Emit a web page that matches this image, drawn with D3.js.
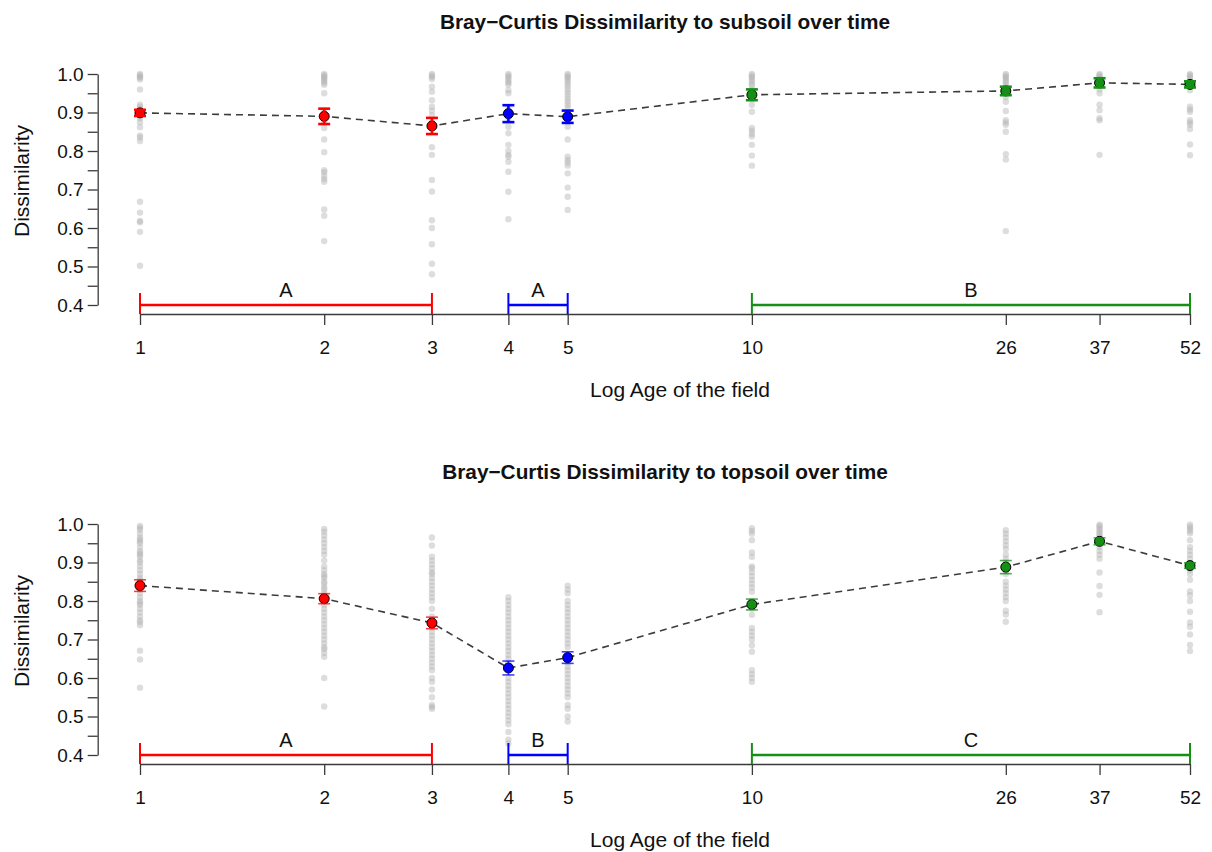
<!DOCTYPE html>
<html>
<head>
<meta charset="utf-8">
<script src="https://cdn.jsdelivr.net/npm/d3@7"></script>
<style>
  body { margin: 0; background: #fff; }
  svg { display: block; }
  text { font-family: "Liberation Sans", Arial, Helvetica, sans-serif; }
</style>
</head>
<body>
<svg id="chart" width="1212" height="852"></svg>
<script>
// Field age (years) of each sampled site
const ages = [1, 2, 3, 4, 5, 10, 26, 37, 52];
const ageTickLabels = ["1", "2", "3", "4", "5", "10", "26", "37", "52"];
const yTickLabels = ["0.4", "0.5", "0.6", "0.7", "0.8", "0.9", "1.0"];

// Age classes used in the post-hoc comparison
const ageGroup = ["young", "young", "young", "mid", "mid", "old", "old", "old", "old"];
const groupSpans = [[1, 3], [4, 5], [10, 52]];
const groupNames = ["young", "mid", "old"];

// Dissimilarity to subsoil
const subsoilMean = [0.899, 0.890, 0.865, 0.897, 0.889, 0.946, 0.956, 0.977, 0.973];
const subsoilSE   = [0.008, 0.020, 0.021, 0.022, 0.016, 0.014, 0.011, 0.012, 0.008];
const subsoilLetters = ["A", "A", "B"];
const subsoilPoints = [
  [1.0, 0.997, 0.993, 0.99, 0.986, 0.96, 0.92, 0.915, 0.91, 0.905, 0.9, 0.895, 0.885, 0.875, 0.862, 0.84, 0.835, 0.826, 0.668, 0.64, 0.618, 0.615, 0.59, 0.502],
  [1.0, 0.997, 0.993, 0.99, 0.986, 0.982, 0.977, 0.972, 0.95, 0.905, 0.89, 0.875, 0.86, 0.83, 0.797, 0.75, 0.745, 0.735, 0.727, 0.72, 0.648, 0.632, 0.566],
  [1.0, 0.996, 0.992, 0.987, 0.967, 0.954, 0.932, 0.915, 0.905, 0.893, 0.875, 0.86, 0.81, 0.79, 0.725, 0.695, 0.62, 0.6, 0.558, 0.507, 0.48],
  [1.0, 0.996, 0.992, 0.987, 0.982, 0.977, 0.972, 0.958, 0.95, 0.91, 0.9, 0.885, 0.863, 0.846, 0.816, 0.8, 0.79, 0.785, 0.772, 0.746, 0.694, 0.623],
  [1.0, 0.996, 0.992, 0.987, 0.982, 0.975, 0.968, 0.96, 0.952, 0.944, 0.936, 0.928, 0.92, 0.912, 0.895, 0.875, 0.863, 0.83, 0.785, 0.777, 0.77, 0.762, 0.742, 0.705, 0.681, 0.647],
  [1.0, 0.996, 0.992, 0.987, 0.982, 0.975, 0.97, 0.96, 0.935, 0.92, 0.902, 0.86, 0.853, 0.845, 0.838, 0.816, 0.788, 0.762],
  [1.0, 0.996, 0.992, 0.988, 0.983, 0.978, 0.972, 0.965, 0.94, 0.928, 0.904, 0.88, 0.874, 0.868, 0.85, 0.792, 0.778, 0.592],
  [1.0, 0.997, 0.993, 0.988, 0.983, 0.97, 0.96, 0.95, 0.92, 0.906, 0.885, 0.88, 0.79],
  [1.0, 0.997, 0.993, 0.988, 0.98, 0.97, 0.958, 0.915, 0.908, 0.902, 0.88, 0.874, 0.868, 0.857, 0.817, 0.789]
];

// Dissimilarity to topsoil
const topsoilMean = [0.840, 0.806, 0.743, 0.626, 0.653, 0.791, 0.888, 0.955, 0.892];
const topsoilSE   = [0.015, 0.013, 0.015, 0.018, 0.015, 0.014, 0.017, 0.009, 0.007];
const topsoilLetters = ["A", "B", "C"];
const topsoilPoints = [
  [0.995, 0.99, 0.985, 0.975, 0.965, 0.96, 0.955, 0.95, 0.94, 0.93, 0.925, 0.92, 0.915, 0.905, 0.9, 0.89, 0.88, 0.87, 0.86, 0.855, 0.85, 0.845, 0.835, 0.83, 0.82, 0.81, 0.8, 0.795, 0.79, 0.78, 0.77, 0.76, 0.75, 0.745, 0.737, 0.671, 0.648, 0.575],
  [0.987, 0.98, 0.97, 0.96, 0.95, 0.94, 0.93, 0.92, 0.905, 0.89, 0.88, 0.87, 0.865, 0.86, 0.85, 0.845, 0.835, 0.83, 0.82, 0.81, 0.8, 0.79, 0.78, 0.77, 0.76, 0.75, 0.74, 0.73, 0.72, 0.71, 0.7, 0.69, 0.68, 0.675, 0.665, 0.655, 0.6, 0.526],
  [0.965, 0.944, 0.915, 0.905, 0.895, 0.885, 0.875, 0.87, 0.86, 0.85, 0.84, 0.83, 0.82, 0.81, 0.8, 0.78, 0.76, 0.75, 0.73, 0.72, 0.71, 0.7, 0.69, 0.68, 0.67, 0.66, 0.65, 0.64, 0.63, 0.62, 0.6, 0.59, 0.57, 0.55, 0.53, 0.525, 0.52],
  [0.81, 0.8, 0.79, 0.78, 0.77, 0.76, 0.75, 0.74, 0.73, 0.72, 0.71, 0.7, 0.69, 0.68, 0.67, 0.66, 0.65, 0.64, 0.6, 0.59, 0.58, 0.57, 0.56, 0.55, 0.54, 0.53, 0.52, 0.51, 0.5, 0.49, 0.48, 0.46, 0.44, 0.43],
  [0.84, 0.83, 0.82, 0.8, 0.79, 0.78, 0.77, 0.76, 0.75, 0.74, 0.73, 0.72, 0.71, 0.7, 0.69, 0.68, 0.66, 0.64, 0.63, 0.62, 0.61, 0.6, 0.59, 0.58, 0.57, 0.56, 0.55, 0.53, 0.52, 0.5, 0.487],
  [0.989, 0.982, 0.975, 0.958, 0.926, 0.915, 0.89, 0.885, 0.875, 0.865, 0.855, 0.845, 0.835, 0.824, 0.8, 0.78, 0.764, 0.73, 0.72, 0.71, 0.7, 0.685, 0.668, 0.62, 0.61, 0.6, 0.59],
  [0.984, 0.975, 0.965, 0.955, 0.945, 0.935, 0.92, 0.91, 0.9, 0.88, 0.87, 0.85, 0.84, 0.83, 0.82, 0.81, 0.8, 0.775, 0.765, 0.746],
  [0.998, 0.995, 0.99, 0.985, 0.98, 0.975, 0.97, 0.965, 0.96, 0.955, 0.95, 0.94, 0.93, 0.92, 0.91, 0.874, 0.839, 0.816, 0.771],
  [0.998, 0.993, 0.988, 0.982, 0.976, 0.958, 0.94, 0.93, 0.92, 0.91, 0.89, 0.88, 0.87, 0.855, 0.825, 0.815, 0.8, 0.772, 0.744, 0.733, 0.713, 0.686, 0.67]
];

const groupColor = { young: "#ff0000", mid: "#0000ff", old: "#168f16" };

const panels = [
  { title: "Bray\u2212Curtis Dissimilarity to subsoil over time", mean: subsoilMean, se: subsoilSE,
    points: subsoilPoints, letters: subsoilLetters, top: 0, barWidth: 2.6, barOpacity: 1 },
  { title: "Bray\u2212Curtis Dissimilarity to topsoil over time", mean: topsoilMean, se: topsoilSE,
    points: topsoilPoints, letters: topsoilLetters, top: 450, barWidth: 1.6, barOpacity: 0.75 }
];

const svg = d3.select("#chart");
svg.append("rect").attr("width", 1212).attr("height", 852).attr("fill", "#fff");

const x = d3.scaleLog().domain([1, 52]).range([140, 1190]);
const axisColor = "#3a3a3a";

panels.forEach(p => {
  const g = svg.append("g").attr("transform", `translate(0,${p.top})`);
  const y = d3.scaleLinear().domain([0.4, 1.0]).range([305, 74]);
  const xAxisY = y(0.4) + 9;

  // title
  g.append("text")
    .attr("x", (x.range()[0] + x.range()[1]) / 2).attr("y", 29)
    .attr("text-anchor", "middle").attr("font-size", 20.8).attr("font-weight", "bold")
    .attr("fill", "#111").text(p.title);

  // y axis: ticks every 0.05, labels every 0.1
  const yTicks = d3.range(0, 13).map(i => 0.4 + i * 0.05);
  const yAxis = d3.axisLeft(y).tickValues(yTicks).tickSize(10).tickSizeOuter(0).tickPadding(4)
    .tickFormat((d, i) => i % 2 === 0 ? yTickLabels[i / 2] : "");
  const ya = g.append("g").attr("transform", "translate(97.7,0)").call(yAxis);
  ya.select(".domain").attr("stroke", axisColor).attr("stroke-width", 1.3);
  ya.selectAll(".tick line").attr("stroke", axisColor).attr("stroke-width", 1.3);
  ya.selectAll(".tick text").attr("font-size", 19).attr("fill", "#111")
    .attr("font-family", "'Liberation Sans', Arial, sans-serif");

  g.append("text")
    .attr("transform", "translate(29,181) rotate(-90)")
    .attr("text-anchor", "middle").attr("font-size", 21).attr("fill", "#111")
    .text("Dissimilarity");

  // x axis (log scale)
  const xAxis = d3.axisBottom(x).tickValues(ages).tickSize(11).tickSizeOuter(0).tickPadding(16)
    .tickFormat((d, i) => ageTickLabels[i]);
  const xa = g.append("g").attr("transform", `translate(0,${xAxisY})`).call(xAxis);
  xa.select(".domain").attr("stroke", axisColor).attr("stroke-width", 1.3);
  xa.selectAll(".tick line").attr("stroke", axisColor).attr("stroke-width", 1.3);
  xa.selectAll(".tick text").attr("font-size", 19).attr("fill", "#111")
    .attr("font-family", "'Liberation Sans', Arial, sans-serif");

  g.append("text")
    .attr("x", 680).attr("y", 397)
    .attr("text-anchor", "middle").attr("font-size", 21).attr("fill", "#111")
    .text("Log Age of the field");

  // raw dissimilarities
  const raw = p.points.flatMap((vals, i) => vals.map(v => ({ age: ages[i], v })));
  g.append("g").selectAll("circle").data(raw).join("circle")
    .attr("cx", d => x(d.age)).attr("cy", d => y(d.v)).attr("r", 3.2)
    .attr("fill", "#b4b4b4").attr("fill-opacity", 0.45);

  // group comparison brackets
  groupSpans.forEach((span, k) => {
    const col = groupColor[groupNames[k]];
    const x0 = x(span[0]), x1 = x(span[1]);
    const bg = g.append("g").attr("stroke", col).attr("stroke-width", 2.4);
    bg.append("line").attr("x1", x0).attr("x2", x1).attr("y1", y(0.4)).attr("y2", y(0.4));
    [x0, x1].forEach(xx => bg.append("line").attr("x1", xx).attr("x2", xx)
      .attr("y1", y(0.4) - 12).attr("y2", xAxisY).attr("stroke-width", 2));
    g.append("text").attr("x", (x0 + x1) / 2).attr("y", y(0.4) - 8)
      .attr("text-anchor", "middle").attr("font-size", 20).attr("fill", "#111")
      .text(p.letters[k]);
  });

  // mean trajectory
  const means = ages.map((a, i) => ({ age: a, m: p.mean[i], se: p.se[i], grp: ageGroup[i] }));
  g.append("path").datum(means)
    .attr("d", d3.line().x(d => x(d.age)).y(d => y(d.m)))
    .attr("fill", "none").attr("stroke", "#3c3c3c").attr("stroke-width", 1.6)
    .attr("stroke-dasharray", "7,5");

  g.append("g").selectAll("circle").data(means).join("circle")
    .attr("cx", d => x(d.age)).attr("cy", d => y(d.m)).attr("r", 5)
    .attr("fill", d => groupColor[d.grp]).attr("stroke", "#000").attr("stroke-width", 1);

  // standard errors
  const eb = g.append("g").selectAll("g").data(means).join("g")
    .attr("stroke", d => groupColor[d.grp]).attr("stroke-width", p.barWidth)
    .attr("stroke-opacity", p.barOpacity);
  eb.append("line").attr("x1", d => x(d.age)).attr("x2", d => x(d.age))
    .attr("y1", d => y(d.m - d.se)).attr("y2", d => y(d.m + d.se));
  eb.append("line").attr("x1", d => x(d.age) - 6).attr("x2", d => x(d.age) + 6)
    .attr("y1", d => y(d.m - d.se)).attr("y2", d => y(d.m - d.se));
  eb.append("line").attr("x1", d => x(d.age) - 6).attr("x2", d => x(d.age) + 6)
    .attr("y1", d => y(d.m + d.se)).attr("y2", d => y(d.m + d.se));
});
</script>
</body>
</html>
